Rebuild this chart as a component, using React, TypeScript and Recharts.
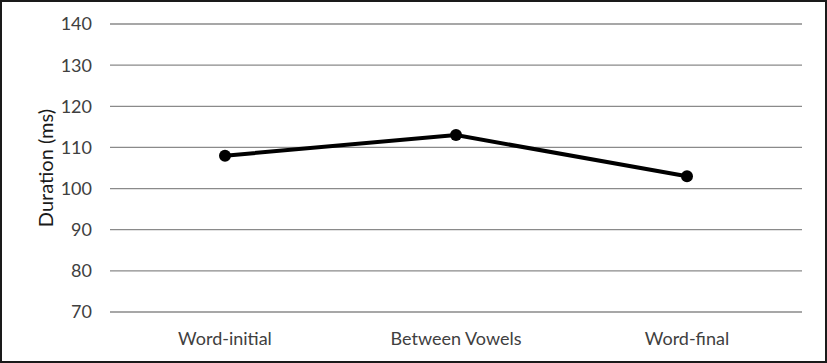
import { LineChart, Line, XAxis, YAxis, CartesianGrid } from "recharts";

const positions = ["Word-initial", "Between Vowels", "Word-final"];
const durations = [108, 113, 103];
const yTicks = [70, 80, 90, 100, 110, 120, 130, 140];

const chartData = positions.map((p, i) => ({ position: p, duration: durations[i] }));

const font = "Lato, 'Open Sans', sans-serif";

export default function App() {
  return (
    <div
      style={{
        position: "absolute",
        top: 0,
        left: 0,
        width: 827,
        height: 363,
        border: "2px solid #1a1a1a",
        boxSizing: "border-box",
        background: "#fff",
        fontFamily: font,
      }}
    >
      <LineChart
        width={823}
        height={359}
        data={chartData}
        margin={{ top: 22, right: 23, left: 0, bottom: 0 }}
      >
        <CartesianGrid vertical={false} stroke="#8a8a8a" strokeWidth={1.3} />
        <XAxis
          dataKey="position"
          height={49}
          padding={{ left: 115, right: 115 }}
          axisLine={false}
          tickLine={false}
          tickSize={6}
          tickMargin={14}
          tick={{ fill: "#404040", fontSize: 18, fontFamily: font }}
        />
        <YAxis
          width={108}
          domain={[70, 140]}
          ticks={yTicks}
          axisLine={false}
          tickLine={false}
          tickSize={6}
          tickMargin={12}
          tick={{ fill: "#404040", fontSize: 18, fontFamily: font }}
          label={{
            value: "Duration (ms)",
            angle: -90,
            position: "center",
            dx: -10,
            style: { fill: "#1a1a1a", fontSize: 20, fontFamily: font },
          }}
        />
        <Line
          type="linear"
          dataKey="duration"
          stroke="#000"
          strokeWidth={4}
          dot={{ r: 6, fill: "#000", stroke: "#000", strokeWidth: 0 }}
          isAnimationActive={false}
        />
      </LineChart>
    </div>
  );
}
